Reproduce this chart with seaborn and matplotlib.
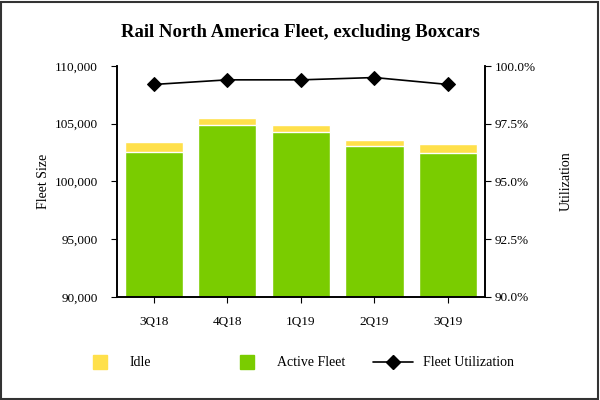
import numpy as np
import pandas as pd
import seaborn as sns
import matplotlib.pyplot as plt
from matplotlib.lines import Line2D
from matplotlib.ticker import FuncFormatter

quarters = ["3Q18", "4Q18", "1Q19", "2Q19", "3Q19"]
active_fleet = [102580, 104890, 104290, 103100, 102490]
idle = [870, 630, 580, 490, 780]
utilization = [99.2, 99.4, 99.4, 99.5, 99.2]

yellow = "#FFE04B"
green = "#7ACC00"

sns.set_style("white")
plt.rcParams["font.family"] = ["Liberation Serif", "DejaVu Serif"]
plt.rcParams["text.color"] = "black"
plt.rcParams["axes.labelcolor"] = "black"
plt.rcParams["xtick.color"] = "black"
plt.rcParams["ytick.color"] = "black"

df = pd.DataFrame({
    "Quarter": quarters,
    "Active": active_fleet,
    "Total": np.array(active_fleet) + np.array(idle),
    "Utilization": utilization,
})

fig, ax = plt.subplots(figsize=(6, 4), dpi=100)
fig.subplots_adjust(left=0.195, right=0.808, top=0.835, bottom=0.258)

sns.barplot(data=df, x="Quarter", y="Total", color=yellow, width=0.79,
            saturation=1, ax=ax)
sns.barplot(data=df, x="Quarter", y="Active", color=green, width=0.79,
            saturation=1, ax=ax)

ax.set_ylim(90000, 110000)
ax.set_xlim(-0.5, 4.5)
ax.set_yticks(np.arange(90000, 110001, 5000))
ax.yaxis.set_major_formatter(FuncFormatter(lambda v, p: f"{int(v):,}"))
ax.set_xlabel("")
ax.set_ylabel("Fleet Size", fontsize=10, labelpad=3)
ax.tick_params(axis="both", labelsize=9.5, length=4, direction="out",
               left=True, bottom=True)
ax.tick_params(axis="y", pad=10)
ax.tick_params(axis="x", pad=10)

ax2 = ax.twinx()
sns.lineplot(data=df, x="Quarter", y="Utilization", color="black", marker="D",
             markersize=7, linewidth=1.2, markeredgecolor="black", ax=ax2)
ax2.set_ylim(90, 100)
ax2.set_yticks(np.arange(90, 100.1, 2.5))
ax2.yaxis.set_major_formatter(FuncFormatter(lambda v, p: f"{v:.1f}%"))
ax2.set_ylabel("Utilization", fontsize=10, labelpad=17)
ax2.tick_params(axis="y", labelsize=9.5, length=4, direction="out", right=True, pad=3)

for a in (ax, ax2):
    a.spines["top"].set_visible(False)
    for s in ("left", "right", "bottom"):
        a.spines[s].set_color("black")
        a.spines[s].set_linewidth(1.2)

fig.suptitle("Rail North America Fleet, excluding Boxcars", fontsize=13.5,
             fontweight="bold", y=0.94)

# legend entries placed one by one, as in the reference
entries = [
    (Line2D([], [], linestyle="none", marker="s", markersize=10,
            markerfacecolor=yellow, markeredgecolor=yellow, label="Idle"), 0.133),
    (Line2D([], [], linestyle="none", marker="s", markersize=10,
            markerfacecolor=green, markeredgecolor=green, label="Active Fleet"), 0.378),
    (Line2D([], [], color="black", marker="D", markersize=7, linewidth=1.2,
            label="Fleet Utilization"), 0.622),
]
for handle, xpos in entries:
    fig.legend(handles=[handle], loc="center left", bbox_to_anchor=(xpos, 0.0925),
               frameon=False, fontsize=10, handlelength=2.9, handletextpad=0.7,
               borderpad=0, borderaxespad=0)

fig.patches.append(plt.Rectangle((0.002, 0.002), 0.994, 0.994, transform=fig.transFigure,
                                 fill=False, edgecolor="#333333", linewidth=1.5))

plt.savefig("out.png", dpi=100)
